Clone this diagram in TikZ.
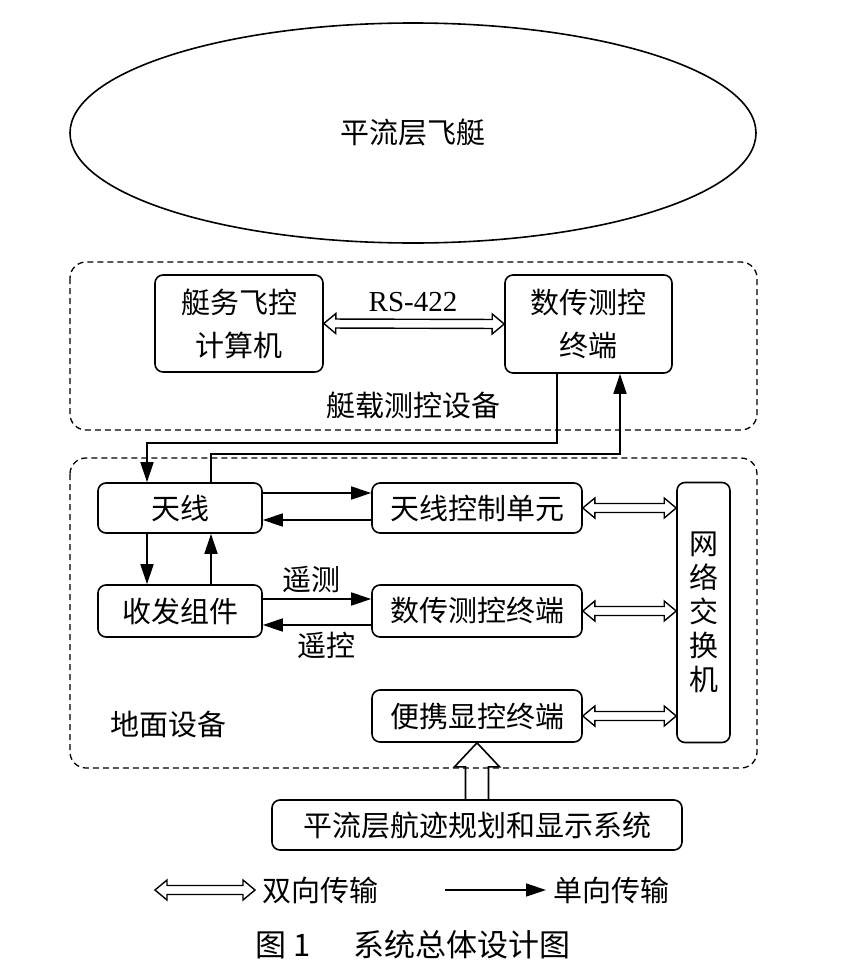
\documentclass[tikz,border=0pt]{standalone}
\usepackage{fontspec}
\setmainfont{Noto Sans CJK SC}
\newfontfamily\tnr{Liberation Serif}
\usetikzlibrary{arrows.meta,shapes.geometric,calc}

\begin{document}
\begin{tikzpicture}[x=1pt, y=-1pt, line width=1.6pt,
  every node/.style={font=\fontsize{29}{43}\selectfont, inner sep=0pt},
  blk/.style={draw, rounded corners=8pt, align=center},
  grp/.style={rounded corners=16pt, line width=1.3pt, dash pattern=on 6pt off 4pt},
  arr/.style={-{Triangle[length=20pt,width=13pt]}},
  dbl/.style={line width=1.4pt, to path={let \p1=($(\tikztotarget)-(\tikztostart)$), \n1={atan2(\y1,\x1)}, \n2={veclen(\x1,\y1)} in
    {[shift={(\tikztostart)}, rotate=\n1] (0pt,0pt) -- (12pt,10pt) -- (12pt,4.5pt) -- (\n2-12pt,4.5pt) -- (\n2-12pt,10pt) -- (\n2,0pt)
      -- (\n2-12pt,-10pt) -- (\n2-12pt,-4.5pt) -- (12pt,-4.5pt) -- (12pt,-10pt) -- cycle}}},
  big/.style={line width=1.6pt, to path={let \p1=($(\tikztotarget)-(\tikztostart)$), \n1={atan2(\y1,\x1)}, \n2={veclen(\x1,\y1)} in
    {[shift={(\tikztostart)}, rotate=\n1] (0pt,11.5pt) -- (\n2-24pt,11.5pt) -- (\n2-24pt,22.5pt) -- (\n2,0pt)
      -- (\n2-24pt,-22.5pt) -- (\n2-24pt,-11.5pt) -- (0pt,-11.5pt)}}}]
\useasboundingbox (0,0) rectangle (854,980);
\node[draw, ellipse, minimum width=686pt, minimum height=220pt] (ship) at (413,133) {平流层飞艇};

\draw[grp] (70,262) rectangle (757,430);
\node[blk, minimum width=168pt, minimum height=97pt] (fcc) at (239,323.5) {艇务飞控\\计算机};
\node[blk, minimum width=167pt, minimum height=98pt] (dtair) at (588.5,324) {数传测控\\终端};
\node (rs) at (413,302) {\tnr RS-422};
\node (air) at (413,405) {艇载测控设备};
\draw[dbl] (fcc.east) to (dtair.west);

\draw[grp] (70,458) rectangle (757,768);
\node[blk, minimum width=164pt, minimum height=50pt] (ant) at (180,508) {天线};
\node[blk, minimum width=210pt, minimum height=50pt] (acu) at (477,508) {天线控制单元};
\node[blk, minimum width=164pt, minimum height=52pt] (trx) at (180,611) {收发组件};
\node[blk, minimum width=210pt, minimum height=52pt] (dtgnd) at (477,611) {数传测控终端};
\node[blk, minimum width=210pt, minimum height=52pt] (port) at (477,716) {便携显控终端};
\node[blk, minimum width=53pt, minimum height=260pt, font=\fontsize{29}{34}\selectfont] (sw) at (703.5,612.5) {网\\络\\交\\换\\机};
\node (gnd) at (168,724) {地面设备};
\node[blk, minimum width=410pt, minimum height=50pt] (sys) at (477,825) {平流层航迹规划和显示系统};

\draw[arr] ([xshift=-31.5pt]dtair.south) -- ++(0,69) -| ([xshift=-33pt]ant.north);
\draw[arr] ([xshift=31pt]ant.north) -- ++(0,-28) -| ([xshift=31.5pt]dtair.south);

\draw[arr] ([yshift=15pt]ant.east) -- ([yshift=15pt]ant.east -| acu.west);
\draw[arr] ([yshift=-12pt]acu.west) -- ([yshift=-12pt]acu.west -| ant.east);
\draw[arr] ([xshift=-33pt]ant.south) -- ([xshift=-33pt]trx.north);
\draw[arr] ([xshift=31pt]trx.north) -- ([xshift=31pt]ant.south);
\draw[arr] ([yshift=12pt]trx.east) -- ([yshift=12pt]trx.east -| dtgnd.west);
\draw[arr] ([yshift=-14pt]dtgnd.west) -- ([yshift=-14pt]dtgnd.west -| trx.east);
\node (tm) at (311,580) {遥测};
\node (tc) at (326,645) {遥控};

\draw[dbl] (acu.east) to (acu.east -| sw.west);
\draw[dbl] (dtgnd.east) to (dtgnd.east -| sw.west);
\draw[dbl] (port.east) to (port.east -| sw.west);
\draw[big] (sys.north) to (port.south);

\coordinate (l1) at (155,890);
\coordinate (l2) at (255,890);
\coordinate (l3) at (445,890);
\coordinate (l4) at (546,890);
\draw[dbl] (l1) to (l2);
\node[anchor=west] (bi) at (262,890) {双向传输};
\draw[arr] (l3) -- (l4);
\node[anchor=west] (uni) at (553,890) {单向传输};

\node[font=\fontsize{31}{40}\selectfont] (cap) at (413,945) {图 1\hspace{1.4em}系统总体设计图};
\end{tikzpicture}
\end{document}
